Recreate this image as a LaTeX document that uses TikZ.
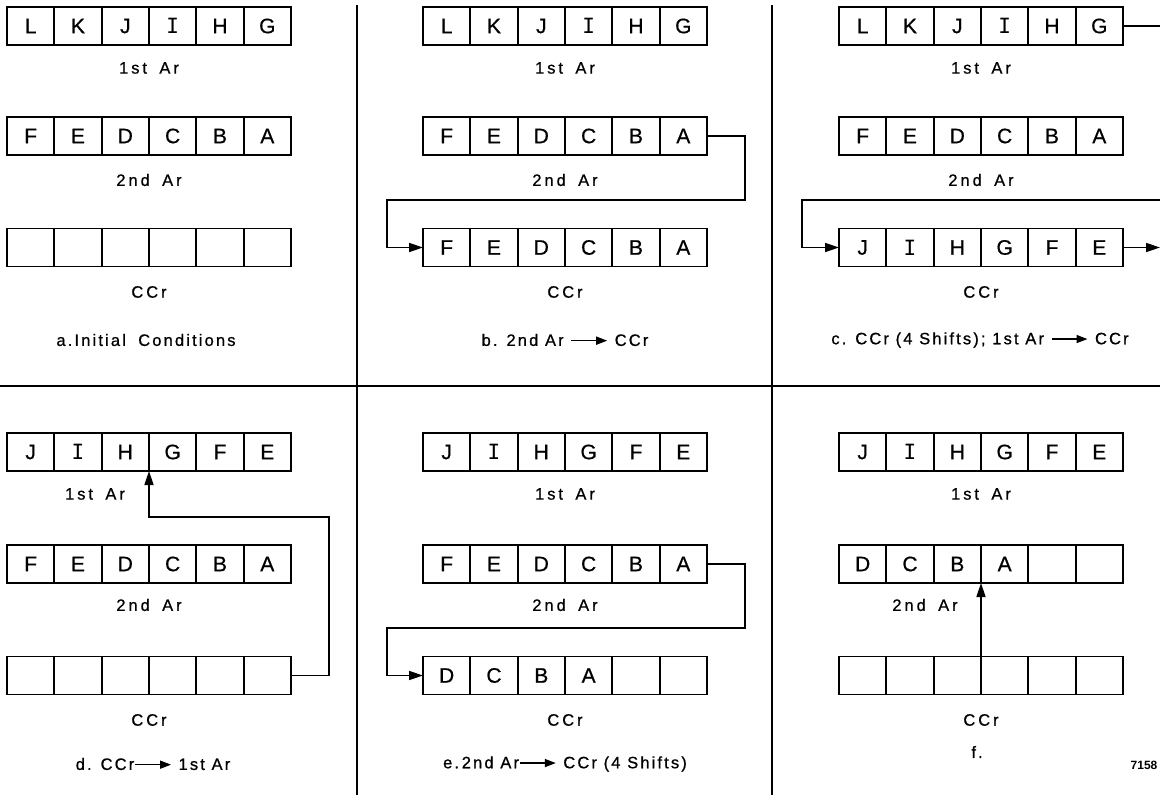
\documentclass[tikz,border=0pt]{standalone}
\usepackage{fontspec}
\setmainfont{Liberation Sans}
\newfontfamily\cellfont[FakeBold=0.6]{Liberation Sans}
\newfontfamily\lblfont[LetterSpace=18,FakeBold=0.8]{Liberation Sans}
\newfontfamily\capfont[LetterSpace=13,FakeBold=0.8]{Liberation Sans}
\newfontfamily\serifI{DejaVu Sans Mono}
\usetikzlibrary{arrows.meta}
\tikzset{
  cell/.style={draw, line width=1.8pt, minimum width=47.33pt, minimum height=38pt,
    inner sep=0pt, outer sep=0pt, font=\cellfont\fontsize{21}{22}\selectfont},
  lbl/.style={font=\lblfont\fontsize{16.5}{18}\selectfont},
  captxt/.style={font=\capfont\fontsize{16.5}{18}\selectfont},
  conn/.style={line width=1.6pt},
  arr/.style={conn, -{Triangle[length=14pt,width=9pt]}},
  divider/.style={line width=1.8pt},
}
\newcommand\cellrow[4]{%
  \foreach \t [count=\i] in {#4} {
    \node[cell] (#1-\i) at ({#2+(\i-0.5)*47.33}, #3) {\t};
  }%
}
\newcommand\capar{\tikz[baseline=-0.6ex]\draw[line width=1.6pt,-{Triangle[length=11pt,width=8pt]}] (0pt,0pt) -- (36pt,0pt);}
\newcommand\II{{\serifI I}}
\newcommand\gap{\hspace{0.75em}}
\begin{document}
\begin{tikzpicture}[x=1pt,y=-1pt]
\useasboundingbox[fill=white] (0,0) rectangle (1160,795);

% dividers
\draw[divider] (357,5) -- (357,795);
\draw[divider] (772,5) -- (772,795);
\draw[divider] (0,386) -- (1160,386);

% ---------- panel a ----------
\cellrow{a1}{7}{26}{L,K,J,\II,H,G}
\cellrow{a2}{7}{136}{F,E,D,C,B,A}
\cellrow{a3}{7}{247.5}{{},{},{},{},{},{}}
\node[lbl] (a1l) at (149,68) {1st\gap{}Ar};
\node[lbl] (a2l) at (149,180) {2nd\gap{}Ar};
\node[lbl] (a3l) at (149,292) {CCr};
\node[captxt] (acap) at (146,340) {a.Initial\gap{}Conditions};

% ---------- panel b ----------
\cellrow{b1}{423}{26}{L,K,J,\II,H,G}
\cellrow{b2}{423}{136}{F,E,D,C,B,A}
\cellrow{b3}{423}{247.5}{F,E,D,C,B,A}
\node[lbl] (b1l) at (565,68) {1st\gap{}Ar};
\node[lbl] (b2l) at (565,180) {2nd\gap{}Ar};
\node[lbl] (b3l) at (565,292) {CCr};
\node[captxt] (bcap) at (565,340) {b. 2nd Ar \capar{} CCr};
\coordinate (bk1) at (745,200);
\coordinate (bk2) at (387,247.5);
\draw[arr] (b2-6.east) -| (bk1) -| (bk2) -- (b3-1.west);

% ---------- panel c ----------
\cellrow{c1}{839}{26}{L,K,J,\II,H,G}
\cellrow{c2}{839}{136}{F,E,D,C,B,A}
\cellrow{c3}{839}{247.5}{J,\II,H,G,F,E}
\node[lbl] (c1l) at (981,68) {1st\gap{}Ar};
\node[lbl] (c2l) at (981,180) {2nd\gap{}Ar};
\node[lbl] (c3l) at (981,292) {CCr};
\node[captxt] (ccap) at (980,340) {c. CCr (4 Shifts); 1st Ar \capar{} CCr};
\coordinate (cout1) at (1160,26);
\coordinate (cin) at (1160,200);
\coordinate (ck) at (802,247.5);
\coordinate (cout2) at (1160,247.5);
\draw[conn] (c1-6.east) -- (cout1);
\draw[arr] (cin) -| (ck) -- (c3-1.west);
\draw[arr] (c3-6.east) -- (cout2);

% ---------- panel d ----------
\cellrow{d1}{7}{452}{J,\II,H,G,F,E}
\cellrow{d2}{7}{564}{F,E,D,C,B,A}
\cellrow{d3}{7}{675.5}{{},{},{},{},{},{}}
\node[lbl] (d1l) at (95,494) {1st\gap{}Ar};
\node[lbl] (d2l) at (149,605) {2nd\gap{}Ar};
\node[lbl] (d3l) at (149,720) {CCr};
\node[captxt] (dcap) at (153,764) {d. CCr\capar{} 1st Ar};
\coordinate (dk) at (329,517);
\draw[arr] (d3-6.east) -| (dk) -| (d1-3.south east);

% ---------- panel e ----------
\cellrow{e1}{423}{452}{J,\II,H,G,F,E}
\cellrow{e2}{423}{564}{F,E,D,C,B,A}
\cellrow{e3}{423}{675.5}{D,C,B,A,{},{}}
\node[lbl] (e1l) at (565,494) {1st\gap{}Ar};
\node[lbl] (e2l) at (565,605) {2nd\gap{}Ar};
\node[lbl] (e3l) at (565,720) {CCr};
\node[captxt] (ecap) at (565,764) {e.\,2nd Ar\capar{} CCr (4 Shifts)};
\coordinate (ek1) at (745,628);
\coordinate (ek2) at (387,675.5);
\draw[arr] (e2-6.east) -| (ek1) -| (ek2) -- (e3-1.west);

% ---------- panel f ----------
\cellrow{f1}{839}{452}{J,\II,H,G,F,E}
\cellrow{f2}{839}{564}{D,C,B,A,{},{}}
\cellrow{f3}{839}{675.5}{{},{},{},{},{},{}}
\node[lbl] (f1l) at (981,494) {1st\gap{}Ar};
\node[lbl] (f2l) at (925,605) {2nd\gap{}Ar};
\node[lbl] (f3l) at (981,720) {CCr};
\node[captxt] (fcap) at (977,752) {f.};
\draw[arr] (f3-4.north west) -- (f2-4.south west);

\node[font=\fontsize{12}{13}\selectfont\bfseries] (num) at (1144,765) {7158};
\end{tikzpicture}
\end{document}
